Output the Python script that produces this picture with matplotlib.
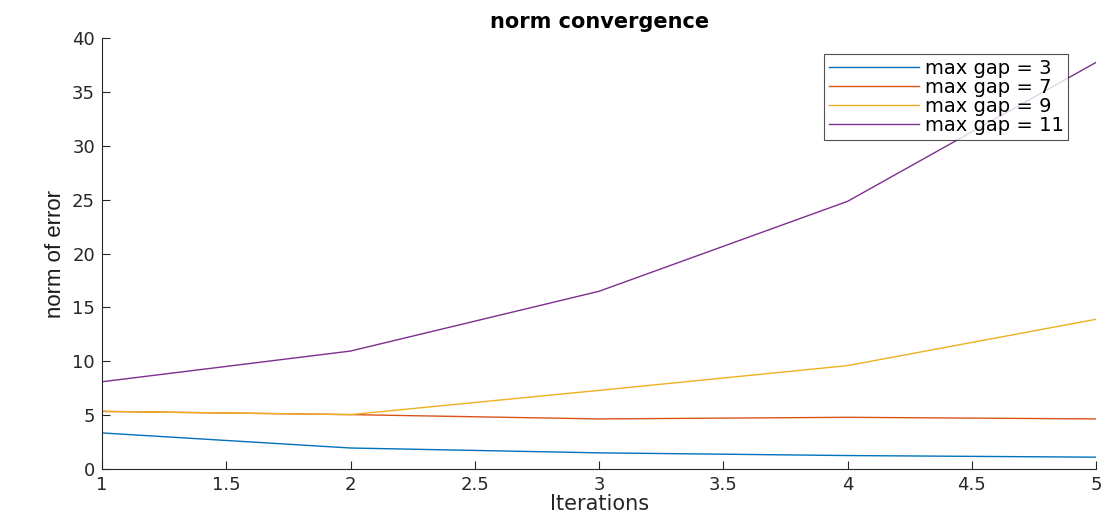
import matplotlib
matplotlib.use("Agg")
import matplotlib.pyplot as plt

plt.rcParams['font.family'] = ['DejaVu Sans']

# Data
iterations = [1, 2, 3, 4, 5]
gap3 = [3.35, 1.95, 1.5, 1.25, 1.1]
gap7 = [5.35, 5.05, 4.65, 4.8, 4.65]
gap9 = [5.35, 5.05, 7.3, 9.6, 13.9]
gap11 = [8.1, 10.95, 16.5, 24.85, 37.75]
labels = ["max gap = 3", "max gap = 7", "max gap = 9", "max gap = 11"]
colors = ["#0072BD", "#D95319", "#EDB120", "#7E2F8E"]

fig = plt.figure(figsize=(11.05, 5.22), dpi=100)
ax = fig.add_axes([0.0923, 0.1015, 0.8997, 0.8255])

for series, lab, col in zip([gap3, gap7, gap9, gap11], labels, colors):
    ax.plot(iterations, series, color=col, linewidth=1.0, label=lab)

ax.set_xlim(1, 5)
ax.set_ylim(0, 40)
ax.set_xticks([1, 1.5, 2, 2.5, 3, 3.5, 4, 4.5, 5])
ax.set_xticklabels(["1", "1.5", "2", "2.5", "3", "3.5", "4", "4.5", "5"])
ax.set_yticks(range(0, 41, 5))
ax.spines['top'].set_visible(False)
ax.spines['right'].set_visible(False)
for s in ['left', 'bottom']:
    ax.spines[s].set_color('#262626')
    ax.spines[s].set_linewidth(0.8)
ax.tick_params(direction='in', length=6, width=0.8, colors='#262626',
               labelsize=13, pad=5)

ax.set_title("norm convergence", fontsize=15, fontweight='bold', pad=7)
ax.set_xlabel("Iterations", fontsize=15, color='#262626', labelpad=0)
ax.set_ylabel("norm of error", fontsize=16, color='#1a1a1a',
              family=['Liberation Sans Narrow', 'Liberation Sans'], labelpad=4)

leg = ax.legend(loc='upper right', bbox_to_anchor=(0.972, 0.963), fontsize=14,
                frameon=True, fancybox=False, handlelength=4.6, handletextpad=0.3,
                labelspacing=0.0, borderpad=0.25, borderaxespad=0)
leg.get_frame().set_edgecolor('#262626')
leg.get_frame().set_linewidth(0.8)

fig.savefig("out.png", dpi=100)
